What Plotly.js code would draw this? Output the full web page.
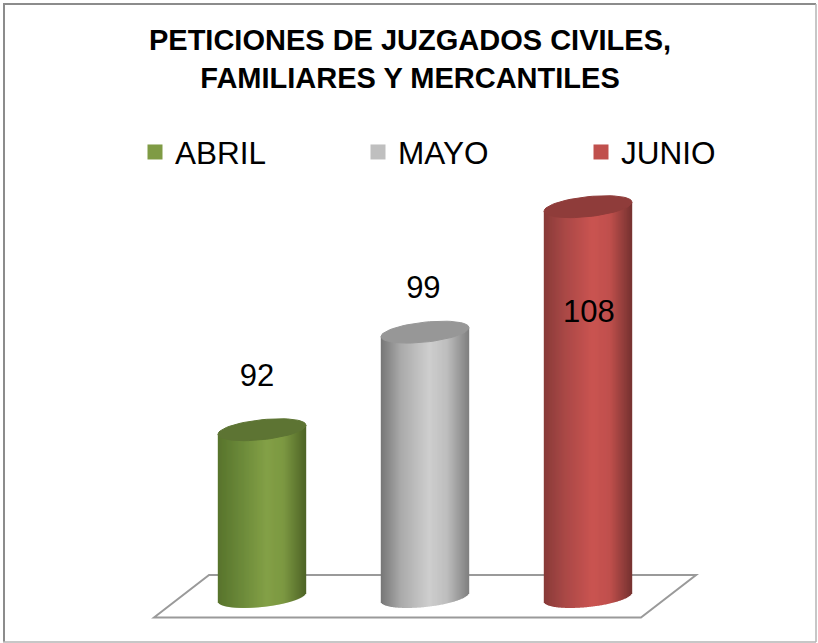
<!DOCTYPE html>
<html>
<head>
<meta charset="utf-8">
<script src="https://cdn.plot.ly/plotly-3.0.1.min.js"></script>
<style>html,body{margin:0;padding:0;background:#fff;overflow:hidden}</style>
</head>
<body>
<div id="chart" style="width:818px;height:643px"></div>
<script>
// ---- data ----
const categories = ["ABRIL", "MAYO", "JUNIO"];
const values = [92, 99, 108];
const chartTitle = "PETICIONES DE JUZGADOS CIVILES,<br>FAMILIARES Y MERCANTILES";

// ---- styles ----
const legendColors = ["#7f9b45", "#bfbfbf", "#c0504d"];
const capColors = ["#5d7433", "#979797", "#8f3c3a"];
const shadeStops = [-1, -0.55, 0.1, 0.5, 1];
const shadeColors = [
  [[88,116,44],[104,134,56],[131,160,70],[124,152,66],[78,100,38]],
  [[118,118,118],[170,170,170],[206,206,206],[190,190,190],[128,128,128]],
  [[136,58,56],[168,72,70],[202,84,81],[192,80,77],[118,50,48]]
];

// ---- scales ----
const W = 818, H = 643;
const baseValue = 80;
const pxPerX = 163, pxPerY = 13.94;
const xRange = [-262 / pxPerX, (W - 262) / pxPerX];
const yTop = baseValue + 597 / pxPerY;
const yRange = [yTop - H / pxPerY, yTop];
const halfW = 44 / pxPerX;            // cylinder half width
const shear = 4.5 / pxPerY, minor = 10 / pxPerY; // tilted ellipse

function mix(stops, colors, u) {
  let i = 0;
  while (i < stops.length - 2 && u > stops[i + 1]) i++;
  const f = (u - stops[i]) / (stops[i + 1] - stops[i]);
  const c = colors[i].map((v, k) => Math.round(v + (colors[i + 1][k] - v) * f));
  return `rgb(${c[0]},${c[1]},${c[2]})`;
}

const traces = [];

const N = 88;
categories.forEach((name, c) => {
  const xs = [], ys = [], bases = [], cols = [];
  for (let i = 0; i < N; i++) {
    const u = -1 + (2 * i + 1) / N;
    xs.push(c + u * halfW);
    const b = baseValue + shear * u - minor * Math.sqrt(1 - u * u);
    bases.push(b);
    ys.push(values[c] + shear * u - b);
    cols.push(mix(shadeStops, shadeColors[c], u));
  }
  traces.push({type: "bar", name: name, x: xs, y: ys, base: bases, width: 2 * halfW / N * 1.4,
    showlegend: false, hoverinfo: "skip", marker: {color: cols, line: {width: 0}}});
  // top cap
  const ex = [], ey = [];
  for (let d = 0; d <= 360; d += 6) {
    const t = d * Math.PI / 180;
    ex.push(c + halfW * Math.cos(t));
    ey.push(values[c] + shear * Math.cos(t) + minor * Math.sin(t));
  }
  traces.push({type: "scatter", mode: "lines", x: ex, y: ey, fill: "toself", fillcolor: capColors[c],
    line: {color: capColors[c], width: 1}, showlegend: false, hoverinfo: "skip"});
});

// legend entries
categories.forEach((name, c) => {
  traces.push({type: "scatter", mode: "markers", name: name, x: [c], y: [null],
    marker: {symbol: "square", size: 15, color: legendColors[c]}, hoverinfo: "skip"});
});

// data labels
const labelDx = [-0.03, -0.01, 0.006];
const labelDy = [3.66, 3.0, -7.75];
traces.push({type: "scatter", mode: "text", x: categories.map((_, c) => c + labelDx[c]),
  y: values.map((v, c) => v + labelDy[c]), text: values.map(String), textposition: "middle center",
  textfont: {family: "Liberation Sans, Arial, sans-serif", size: 31, color: "#000"},
  showlegend: false, hoverinfo: "skip"});

const frame = (x0, y0, x1, y1, color, width) => ({type: "line", xref: "paper", yref: "paper",
  x0: x0 / W, x1: x1 / W, y0: 1 - y0 / H, y1: 1 - y1 / H, line: {color, width}});

// floor of the 3-D plot, in axis units, behind the cylinders
const floorX = [-0.6626, -0.325, 2.663, 2.325];
const floorY = [baseValue - 1.47, baseValue + 1.58, baseValue + 1.58, baseValue - 1.47];
const floorPath = floorX.map((x, i) => (i ? "L" : "M") + x + "," + floorY[i]).join(" ") + " Z";

const layout = {
  width: W, height: H, margin: {l: 0, r: 0, t: 0, b: 0},
  paper_bgcolor: "#fff", plot_bgcolor: "#fff",
  barmode: "overlay",
  font: {family: "Liberation Sans, Arial, sans-serif", color: "#000"},
  title: {text: chartTitle, font: {size: 29, color: "#000", weight: 700,
    family: "Liberation Sans, Arial, sans-serif"}, x: 410 / W, xanchor: "center",
    y: 1 - 50 / H, yanchor: "top"},
  xaxis: {range: xRange, visible: false, fixedrange: true},
  yaxis: {range: yRange, visible: false, fixedrange: true},
  legend: {orientation: "h", x: 135 / W, xanchor: "left", y: 1 - 125 / H, yanchor: "top",
    entrywidth: 178, entrywidthmode: "pixels", font: {size: 31.5, color: "#000"},
    bgcolor: "rgba(0,0,0,0)", borderwidth: 0, itemclick: false, itemdoubleclick: false},
  shapes: [
    {type: "path", xref: "x", yref: "y", path: floorPath, layer: "below",
      line: {color: "#9a9a9a", width: 2}, fillcolor: "#ffffff"},
    frame(3, 4, 816, 4, "#8c8c8c", 2),
    frame(4, 4, 4, 642, "#8c8c8c", 2),
    frame(816, 4, 816, 642, "#b4b4b4", 1.5),
    frame(3, 642, 816, 642, "#b4b4b4", 1.5)
  ],
  showlegend: true
};
Plotly.newPlot("chart", traces, layout, {displayModeBar: false, staticPlot: true});
</script>
</body>
</html>
